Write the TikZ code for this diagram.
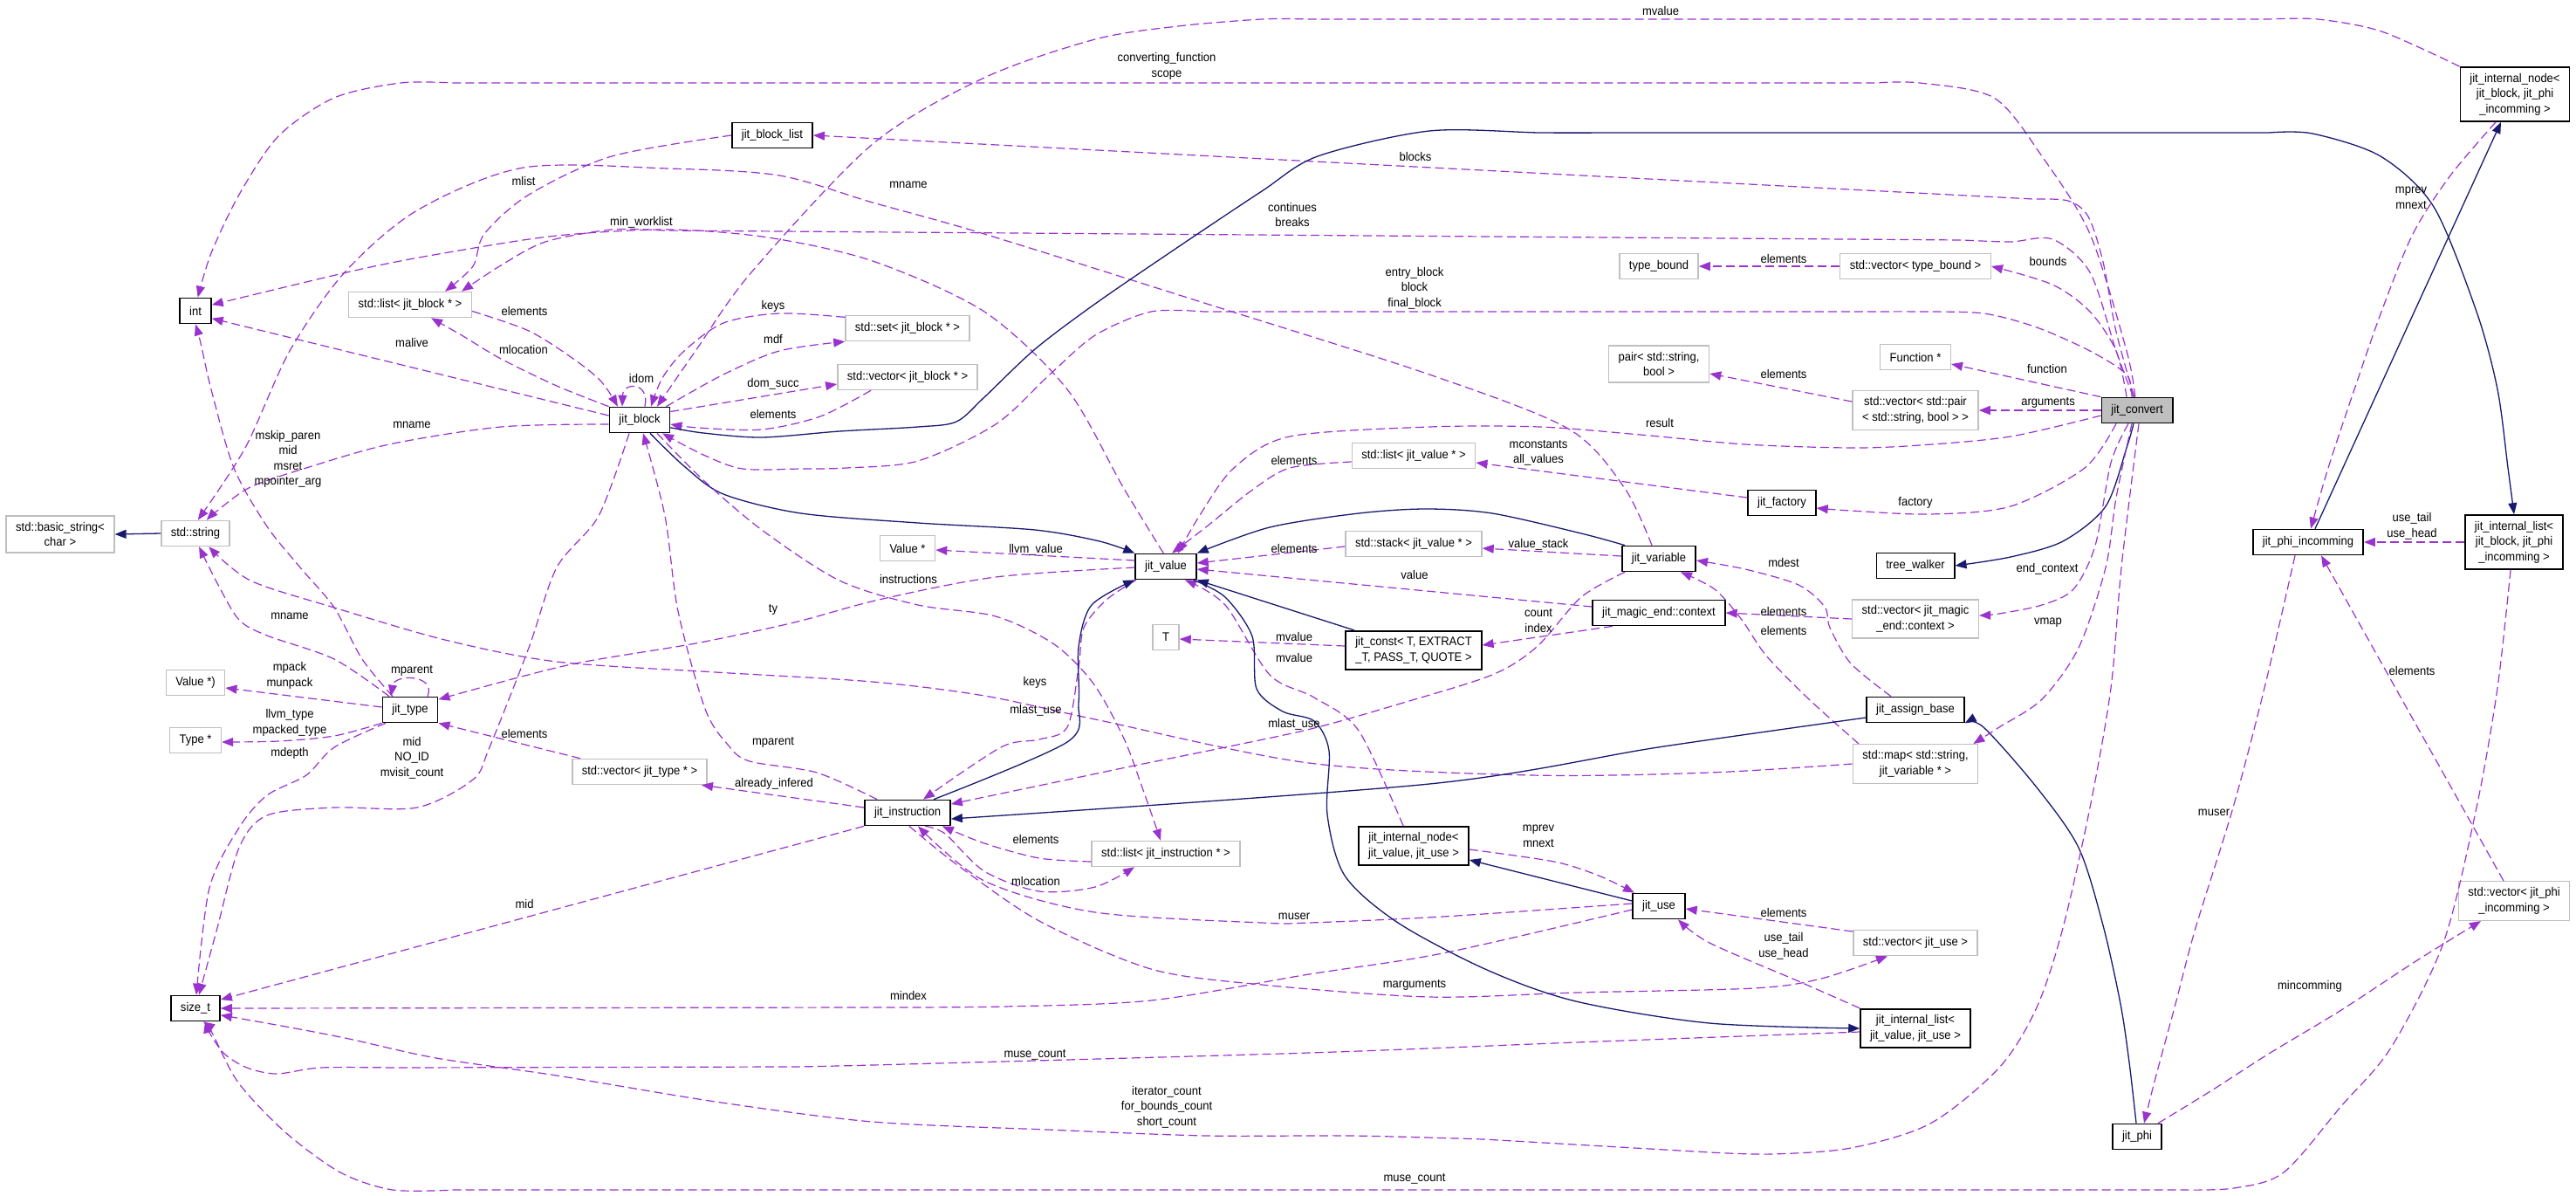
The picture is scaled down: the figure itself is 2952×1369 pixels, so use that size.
\documentclass[tikz,border=0pt]{standalone}
\usepackage{fontspec}
\newfontfamily\dfont{Liberation Sans}[FakeStretch=0.93]
\usetikzlibrary{arrows.meta}
\definecolor{purp}{HTML}{9A32CD}
\definecolor{navyb}{HTML}{191970}
\definecolor{gbord}{HTML}{BFBFBF}
\definecolor{gfill}{HTML}{BFBFBF}
\newcommand{\nf}{\dfont\fontsize{14}{17.5}\selectfont}
\begin{document}
\begin{tikzpicture}[x=1pt,y=-1pt,
 cls/.style={draw=black,line width=1.7pt,fill=white,font=\nf,inner xsep=11pt,inner ysep=7pt,minimum height=29pt,align=center},
 ext/.style={cls,draw=gbord,line width=1.5pt},
 lbl/.style={font=\nf,inner sep=0pt,align=center},
 mem/.style={draw=purp,line width=1.2pt,dash pattern=on 10pt off 5pt,-{Triangle[length=13pt,width=10pt]}},
 inh/.style={draw=navyb,line width=1.3pt,-{Triangle[length=13pt,width=10pt]}}]
\fill[white] (0,0) rectangle (2952,1369);
\useasboundingbox (0,0) rectangle (2952,1369);
% nodes
\node[cls,fill=gfill] (conv) at (2449,470) {jit\_convert};
\node[cls] (int) at (224,356) {int};
\node[ext] (lstblk) at (470,349) {std::list< jit\_block * >};
\node[cls] (blist) at (885,155) {jit\_block\_list};
\node[ext] (bstr) at (69,612) {std::basic\_string<\\char >};
\node[ext] (str) at (224,611) {std::string};
\node[cls] (blk) at (733,481) {jit\_block};
\node[ext] (setb) at (1040,376) {std::set< jit\_block * >};
\node[ext] (vecb) at (1040,432) {std::vector< jit\_block * >};
\node[cls] (val) at (1336,649) {jit\_value};
\node[ext] (valp) at (1040,628) {Value *};
\node[ext] (tb) at (1901,305) {type\_bound};
\node[ext] (vectb) at (2195,305) {std::vector< type\_bound >};
\node[ext] (fun) at (2195,409) {Function *};
\node[ext] (pair) at (1901,417) {pair< std::string,\\ bool >};
\node[ext] (vecpair) at (2195,470) {std::vector< std::pair\\< std::string, bool > >};
\node[ext] (lstval) at (1620,522) {std::list< jit\_value * >};
\node[cls] (fact) at (2042,576) {jit\_factory};
\node[ext] (stk) at (1620,623) {std::stack< jit\_value * >};
\node[cls] (var) at (1901,640) {jit\_variable};
\node[cls] (tw) at (2195,648) {tree\_walker};
\node[cls] (ctx) at (1901,702) {jit\_magic\_end::context};
\node[ext] (vecctx) at (2195,709) {std::vector< jit\_magic\\\_end::context >};
\node[ext] (T) at (1336,730) {T};
\node[cls] (const) at (1620,745) {jit\_const< T, EXTRACT\\\_T, PASS\_T, QUOTE >};
\node[cls] (asg) at (2195,813) {jit\_assign\_base};
\node[ext] (map) at (2195,875) {std::map< std::string,\\ jit\_variable * >};
\node[ext] (valpp) at (224,782) {Value *)};
\node[cls] (type) at (470,813) {jit\_type};
\node[ext] (typep) at (224,848) {Type *};
\node[ext] (vectype) at (733,884) {std::vector< jit\_type * >};
\node[cls] (ins) at (1040,931) {jit\_instruction};
\node[ext] (lstins) at (1336,978) {std::list< jit\_instruction * >};
\node[cls] (inode) at (1620,969) {jit\_internal\_node<\\ jit\_value, jit\_use >};
\node[cls] (use) at (1901,1038) {jit\_use};
\node[ext] (vecuse) at (2195,1080) {std::vector< jit\_use >};
\node[cls] (ilist) at (2195,1178) {jit\_internal\_list<\\ jit\_value, jit\_use >};
\node[cls] (size) at (224,1155) {size\_t};
\node[cls] (phi) at (2449,1302) {jit\_phi};
\node[cls] (phiinc) at (2645,621) {jit\_phi\_incomming};
\node[cls] (pnode) at (2882,108) {jit\_internal\_node<\\jit\_block, jit\_phi\\\_incomming >};
\node[cls] (plist) at (2881,621) {jit\_internal\_list<\\ jit\_block, jit\_phi\\\_incomming >};
\node[ext] (vecphi) at (2881,1032) {std::vector< jit\_phi\\\_incomming >};
% edges
\draw[mem] plot[smooth,tension=.5] coordinates {(conv.98) (2437,402) (2395,268) (2340,179) (2285,112) (2200,95) (2150,95)} -- plot[smooth,tension=.5] coordinates {(520,95) (459,95) (383,112) (319,156) (274,223) (242,290) (int.80)};
\draw[mem] plot[smooth,tension=.5] coordinates {(conv.102) (2425,380) (2410,300) (2393,248) (2370,230) (2330,228)} -- (blist.east);
\draw[mem] plot[smooth,tension=.5] coordinates {(conv.106) (2425,402) (2395,312) (2352,274) (2304,277) (2250,275)} -- plot[smooth,tension=.5] coordinates {(760,264) (701,263) (625,277) (574,304) ([xshift=59pt]lstblk.north)};
\draw[mem] plot[smooth,tension=.5] coordinates {(val.100) (1287,558) (1223,446) (1128,357) (1000,299) (880,272) (765,263) (638,270) (520,288) (415,308) (int.20)};
\draw[mem] (blk.172) -- (int.-25);
\draw[mem] plot[smooth,tension=.5] coordinates {([xshift=-20pt]type.north) (415,755) (383,696) (344,650) (306,603) (268,536) (242,446) (230,393) (int.south)};
\draw[mem] plot[smooth,tension=.5] coordinates {(blk.188) (574,489) (446,509) (351,536) (287,558) (249,585) (str.50)};
\draw[mem] plot[smooth,tension=.5] coordinates {([xshift=-8pt]var.north) (1861,558) (1797,491) (1638,429) (1383,348) (1128,268) (1000,232) (893,201) (765,193) (600,192) (478,241) (395,312) (332,402) (281,513) (str.80)};
\draw[mem] plot[smooth,tension=.5] coordinates {([xshift=-24pt]type.north) (383,755) (306,728) (274,710) (250,670) (str.-75)};
\draw[mem] plot[smooth,tension=.5] coordinates {(map.west) (1959,885) (1755,888) (1500,874) (1255,824) (1128,797) (1000,781) (820,770) (638,758) (510,733) (383,696) (287,665) (str.-45)};
\draw[inh] (str.west) -- (bstr.east);
\draw[mem] plot[smooth,tension=.5] coordinates {(blist.west) (701,179) (606,223) (555,268) (542,305) ([xshift=40pt]lstblk.north)};
\draw[mem] plot[smooth,tension=.5] coordinates {(lstblk.-6) (606,379) (657,411) (689,437) ([xshift=-25pt]blk.north)};
\draw[mem] plot[smooth,tension=.5] coordinates {(blk.north west) (638,442) (574,411) (529,384) ([xshift=24pt]lstblk.south)};
\draw[mem] ([xshift=6pt]blk.north) .. controls (745,437) and (714,437) .. ([xshift=-20pt]blk.north);
\draw[mem] plot[smooth,tension=.5] coordinates {(setb.170) (893,359) (829,370) (784,402) (759,433) ([xshift=13pt]blk.north)};
\draw[mem] plot[smooth,tension=.5] coordinates {([xshift=-5pt]blk.north east) (829,429) (893,402) (setb.south west)};
\draw[mem] (blk.15) -- ([yshift=-8pt]vecb.west);
\draw[mem] plot[smooth,tension=.5] coordinates {([xshift=-42pt]vecb.south) (940,477) (873,492) (800,490) (blk.-8)};
\draw[inh] plot[smooth,tension=.5] coordinates {([xshift=12pt]blk.south) (784,534) (829,566) (918,588) (1052,599) (1186,607) (1260,620) (val.north west)};
\draw[inh] plot[smooth,tension=.5] coordinates {(blk.-14) (806,496) (873,501) (962,494) (1052,489) (1096,483) (1128,455) (1186,400) (1255,348) (1350,283) (1446,219) (1510,179) (1638,150) (1765,152) (1850,152)} -- plot[smooth,tension=.5] coordinates {(2600,152) (2650,153) (2728,179) (2789,237) (2838,357) (2862,446) (2874,536) (plist.north)};
\draw[mem] plot[smooth,tension=.5] coordinates {(pnode.north west) (2729,36) (2656,22) (2600,22)} -- plot[smooth,tension=.5] coordinates {(1500,22) (1446,22) (1350,30) (1255,45) (1128,89) (1000,165) (861,312) (797,402) ([xshift=20pt]blk.north)};
\draw[mem] plot[smooth,tension=.5] coordinates {([xshift=-22pt]pnode.south) (2808,201) (2765,268) (2729,357) (2698,446) (2668,536) ([xshift=3pt]phiinc.north)};
\draw[inh] ([xshift=8pt]phiinc.north) -- ([xshift=-16pt]pnode.south);
\draw[mem] (plist.west) -- (phiinc.east);
\draw[mem] plot[smooth,tension=.5] coordinates {([xshift=-4pt]plist.south) (2862,788) (2838,925) (2800,1080) (2740,1200) (2683,1267) (2617,1343) (2560,1361) (2500,1363)} -- plot[smooth,tension=.5] coordinates {(520,1363) (450,1363) (390,1343) (327,1297) (273,1240) (243,1183) ([xshift=9pt]size.south)};
\draw[mem] ([xshift=-12pt]vecphi.north) -- ([xshift=15pt]phiinc.south);
\draw[mem] plot[smooth,tension=.5] coordinates {([xshift=24pt]phi.north) (2533,1250) (2600,1207) (2683,1157) (2770,1100) ([xshift=-38pt]vecphi.south)};
\draw[mem] plot[smooth,tension=.5] coordinates {([xshift=-15pt]phiinc.south) (2595,788) (2559,925) (2516,1063) (2493,1150) (2470,1235) ([xshift=8pt]phi.north)};
\draw[inh] plot[smooth,tension=.5] coordinates {([xshift=-1pt]phi.north) (2440,1217) (2430,1150) (2410,1060) (2382,971) (2334,902) (2273,833) (asg.south east)};
\draw[inh] plot[smooth,tension=.5] coordinates {([xshift=-4pt]conv.south) (2437,513) (2413,580) (2364,620) (2304,638) (tw.east)};
\draw[mem] plot[smooth,tension=.5] coordinates {([xshift=2pt]conv.south) (2431,650) (2419,788) (2395,925) (2364,1063) (2334,1154) (2291,1223) (2212,1287) (2121,1315) (2030,1322) (1960,1320)} -- plot[smooth,tension=.5] coordinates {(1700,1305) (1550,1301) (1383,1301) (1200,1294) (1000,1285) (820,1262) (638,1232) (500,1212) (400,1190) (333,1177) (size.-15)};
\draw[mem] plot[smooth,tension=.5] coordinates {([xshift=-10pt]conv.south) (2419,530) (2401,625) (2376,675) (2340,693) (2291,703) ([yshift=4pt]vecctx.east)};
\draw[mem] plot[smooth,tension=.5] coordinates {([xshift=-6pt]conv.south) (2425,570) (2413,650) (2382,742) (2340,801) (2291,833) ([xshift=-6pt]map.north east)};
\draw[mem] plot[smooth,tension=.5] coordinates {([xshift=-24pt]conv.south) (2389,536) (2304,580) (2212,589) (2121,585) ([yshift=-6pt]fact.east)};
\draw[mem] (conv.north west) -- ([yshift=-8pt]fun.east);
\draw[mem] (conv.west) -- (vecpair.east);
\draw[mem] ([yshift=10pt]vecpair.west) -- ([yshift=-11pt]pair.east);
\draw[mem] plot[smooth,tension=.5] coordinates {([xshift=-12pt]conv.north) (2425,402) (2395,357) (2352,326) (vectb.east)};
\draw[mem] (vectb.west) -- (tb.east);
\draw[mem] plot[smooth,tension=.5] coordinates {([xshift=-6pt]conv.north) (2437,429) (2395,402) (2334,375) (2273,359) (2200,357) (2150,357)} -- plot[smooth,tension=.5] coordinates {(1380,357) (1319,357) (1255,384) (1203,429) (1141,486) (1052,528) (970,536) (918,537) (851,537) (806,521) ([xshift=26pt]blk.south)};
\draw[mem] plot[smooth,tension=.5] coordinates {([yshift=-6pt]conv.west) (2304,500) (2200,510) (2121,513) (2000,509) (1880,498) (1765,489) (1638,489) (1478,500) (1414,536) (1375,590) ([xshift=14pt]val.north)};
\draw[mem] ([yshift=6pt]fact.west) -- ([yshift=-8pt]lstval.east);
\draw[mem] plot[smooth,tension=.5] coordinates {([yshift=-7pt]lstval.west) (1478,536) (1434,562) (1383,603) ([xshift=7pt]val.north)};
\draw[mem] ([yshift=-3pt]stk.west) -- ([yshift=4pt]val.east);
\draw[mem] ([yshift=3pt]var.west) -- ([yshift=-5pt]stk.east);
\draw[inh] plot[smooth,tension=.5] coordinates {([xshift=4pt]var.north west) (1812,611) (1710,588) (1634,583) (1557,588) (1455,604) (val.north east)};
\draw[mem] ([yshift=7pt]ctx.west) -- ([yshift=-3pt]val.east);
\draw[mem] ([xshift=-53pt]ctx.south) -- ([yshift=6pt]const.east);
\draw[mem] (vecctx.west) -- (ctx.east);
\draw[mem] plot[smooth,tension=.5] coordinates {([xshift=-28pt]asg.north) (2121,760) (2097,719) (2091,695) (2061,670) (2000,652) ([yshift=-2pt]var.east)};
\draw[mem] plot[smooth,tension=.5] coordinates {([xshift=-65pt]map.north) (2073,801) (2024,751) (1996,710) (1965,675) ([xshift=-18pt]var.south east)};
\draw[inh] plot[smooth,tension=.5] coordinates {([yshift=-9pt]asg.west) (1900,856) (1638,898) ([yshift=-7pt]ins.east)};
\draw[inh] ([xshift=-68pt]const.north) -- (val.south east);
\draw[mem] ([yshift=5pt]const.west) -- ([yshift=-2pt]T.east);
\draw[mem] plot[smooth,tension=.5] coordinates {([xshift=-12pt]inode.north) (1557,837) (1506,799) (1455,773) (1404,693) ([xshift=22pt]val.south)};
\draw[mem] plot[smooth,tension=.5] coordinates {([xshift=4pt]var.south west) (1812,684) (1761,741) (1710,773) (1608,805) (1506,834) (1404,856) (1300,877) (1200,898) ([yshift=10pt]ins.east)};
\draw[mem] plot[smooth,tension=.5] coordinates {([xshift=-34pt]val.south) (1268,687) (1242,719) (1236,765) (1223,833) (1191,847) (1147,856) ([xshift=18pt]ins.north)};
\draw[inh] plot[smooth,tension=.5] coordinates {([xshift=30pt]ins.north) (1223,850) (1236,805) (1236,741) (1251,693) (val.south west)};
\draw[mem] plot[smooth,tension=.5] coordinates {([xshift=-35pt]ins.north) (936,885) (859,872) (834,853) (808,812) (777,700) (762,591) ([xshift=4pt]blk.south)};
\draw[mem] plot[smooth,tension=.5] coordinates {([xshift=-12pt]blk.south) (686,591) (638,650) (606,742) (561,856) (542,893) (478,925) (383,925) (306,934) (274,971) (249,1063) ([xshift=4pt]size.north)};
\draw[mem] plot[smooth,tension=.5] coordinates {([xshift=-28pt]type.south) (383,856) (351,888) (306,911) (274,948) (240,1017) ([xshift=1pt]size.north)};
\draw[mem] plot[smooth,tension=.5] coordinates {(type.south west) (383,843) (319,849) ([yshift=-2pt]typep.east)};
\draw[mem] ([yshift=3pt]type.west) -- ([yshift=-6pt]valpp.east);
\draw[mem] ([xshift=20pt]type.north) .. controls (500,772) and (452,772) .. ([xshift=-22pt]type.north);
\draw[mem] plot[smooth,tension=.5] coordinates {([yshift=-1pt]val.west) (1141,661) (1007,687) (910,713) (797,737) (650,762) (type.20)};
\draw[mem] ([xshift=-68pt]vectype.north) -- (type.south east);
\draw[mem] ([yshift=6pt]ins.west) -- ([xshift=-7pt]vectype.south east);
\draw[mem] ([yshift=7pt]val.west) -- ([yshift=-2pt]valp.east);
\draw[mem] plot[smooth,tension=.5] coordinates {([xshift=20pt]blk.south) (806,550) (873,607) (962,665) (1052,693) (1141,706) (1208,738) (1253,783) (1288,846) (1310,905) ([xshift=-6pt]lstins.north)};
\draw[mem] plot[smooth,tension=.5] coordinates {([yshift=-9pt]lstins.west) (1191,983) (1128,966) ([xshift=-10pt]ins.south east)};
\draw[mem] plot[smooth,tension=.5] coordinates {([xshift=20pt]ins.south) (1083,955) (1128,998) (1191,1021) (1255,1016) ([xshift=-36pt]lstins.south)};
\draw[mem] plot[smooth,tension=.5] coordinates {([yshift=3pt]use.west) (1653,1050) (1500,1057) (1446,1057) (1255,1045) (1128,1009) ([xshift=12pt]ins.south)};
\draw[mem] plot[smooth,tension=.5] coordinates {([xshift=2pt]ins.south) (1096,990) (1191,1055) (1319,1110) (1446,1128) (1638,1142) (1806,1137) (2010,1132) (2087,1121) ([xshift=-32pt]vecuse.south)};
\draw[mem] plot[smooth,tension=.5] coordinates {([yshift=-4pt]use.west) (1653,1092) (1500,1116) (1319,1146) (1150,1153) (1000,1154)} -- (size.east);
\draw[mem] (ins.south west) -- ([yshift=10pt]size.east);
\draw[mem] plot[smooth,tension=.5] coordinates {([yshift=-4pt]ilist.west) (1806,1194) (1500,1206) (1000,1220) (900,1222)} -- plot[smooth,tension=.5] coordinates {(450,1223) (367,1223) (317,1230) (283,1223) (257,1207) (240,1183) ([xshift=11pt]size.south)};
\draw[mem] plot[smooth,tension=.5] coordinates {(ilist.north west) (2061,1124) (1959,1080) ([xshift=22pt]use.south)};
\draw[mem] ([yshift=13pt]vecuse.west) -- ([yshift=-3pt]use.east);
\draw[mem] plot[smooth,tension=.5] coordinates {([yshift=-4pt]inode.east) (1781,987) (1832,1003) ([xshift=-28pt]use.north)};
\draw[inh] ([yshift=6pt]use.west) -- ([yshift=-16pt]inode.east);
\draw[inh] plot[smooth,tension=.5] coordinates {([xshift=-4pt]val.south east) (1404,684) (1435,729) (1440,789) (1470,815) (1506,826) (1523,860) (1521,933) (1541,1003) (1602,1057) (1704,1111) (1806,1147) (1959,1172) (ilist.west)};
% labels
\node[lbl] (l1) at (1903,12) {mvalue};
\node[lbl] (l2) at (1337,76) {converting\_function\\scope};
\node[lbl] (l3) at (1622,179) {blocks};
\node[lbl] (l4) at (1041,212) {mname};
\node[lbl] (l5) at (600,207) {mlist};
\node[lbl] (l6) at (1481,246) {continues\\breaks};
\node[lbl] (l7) at (735,255) {min\_worklist};
\node[lbl] (l8) at (2044,296) {elements};
\node[lbl] (l9) at (2347,299) {bounds};
\node[lbl] (l10) at (1621,330) {entry\_block\\block\\final\_block};
\node[lbl] (l11) at (2763,227) {mprev\\mnext};
\node[lbl] (l12) at (601,356) {elements};
\node[lbl] (l13) at (886,351) {keys};
\node[lbl] (l14) at (472,392) {malive};
\node[lbl] (l15) at (600,400) {mlocation};
\node[lbl] (l16) at (886,388) {mdf};
\node[lbl] (l17) at (735,433) {idom};
\node[lbl] (l18) at (886,440) {dom\_succ};
\node[lbl] (l19) at (2346,422) {function};
\node[lbl] (l20) at (2044,428) {elements};
\node[lbl] (l21) at (2347,461) {arguments};
\node[lbl] (l22) at (886,474) {elements};
\node[lbl] (l23) at (472,487) {mname};
\node[lbl] (l24) at (1902,484) {result};
\node[lbl] (l25) at (330,526) {mskip\_paren\\mid\\msret\\mpointer\_arg};
\node[lbl] (l26) at (1483,527) {elements};
\node[lbl] (l27) at (1763,519) {mconstants\\all\_values};
\node[lbl] (l28) at (2195,576) {factory};
\node[lbl] (l29) at (2764,603) {use\_tail\\use\_head};
\node[lbl] (l30) at (1187,630) {llvm\_value};
\node[lbl] (l31) at (1483,628) {elements};
\node[lbl] (l32) at (1763,624) {value\_stack};
\node[lbl] (l33) at (1041,663) {instructions};
\node[lbl] (l34) at (1621,658) {value};
\node[lbl] (l35) at (2346,652) {end\_context};
\node[lbl] (l36) at (2044,644) {mdest};
\node[lbl] (l37) at (886,698) {ty};
\node[lbl] (l38) at (1763,711) {count\\index};
\node[lbl] (l39) at (2044,700) {elements};
\node[lbl] (l40) at (2044,722) {elements};
\node[lbl] (l41) at (1483,729) {mvalue};
\node[lbl] (l42) at (1483,753) {mvalue};
\node[lbl] (l43) at (2347,713) {vmap};
\node[lbl] (l44) at (332,706) {mname};
\node[lbl] (l45) at (472,768) {mparent};
\node[lbl] (l46) at (332,774) {mpack\\munpack};
\node[lbl] (l47) at (1186,782) {keys};
\node[lbl] (l48) at (2764,768) {elements};
\node[lbl] (l49) at (1187,814) {mlast\_use};
\node[lbl] (l50) at (1483,830) {mlast\_use};
\node[lbl] (l51) at (332,828) {llvm\_type\\mpacked\_type};
\node[lbl] (l52) at (601,840) {elements};
\node[lbl] (l53) at (886,850) {mparent};
\node[lbl] (l54) at (472,868) {mid\\NO\_ID\\mvisit\_count};
\node[lbl] (l55) at (332,863) {mdepth};
\node[lbl] (l56) at (887,898) {already\_infered};
\node[lbl] (l57) at (2537,931) {muser};
\node[lbl] (l58) at (1763,958) {mprev\\mnext};
\node[lbl] (l59) at (1187,961) {elements};
\node[lbl] (l60) at (1187,1009) {mlocation};
\node[lbl] (l61) at (601,1035) {mid};
\node[lbl] (l62) at (2044,1045) {elements};
\node[lbl] (l63) at (1483,1050) {muser};
\node[lbl] (l64) at (2044,1084) {use\_tail\\use\_head};
\node[lbl] (l65) at (2647,1130) {mincomming};
\node[lbl] (l66) at (1621,1128) {marguments};
\node[lbl] (l67) at (1041,1140) {mindex};
\node[lbl] (l68) at (1186,1208) {muse\_count};
\node[lbl] (l69) at (1337,1268) {iterator\_count\\for\_bounds\_count\\short\_count};
\node[lbl] (l70) at (1621,1350) {muse\_count};
\end{tikzpicture}
\end{document}
